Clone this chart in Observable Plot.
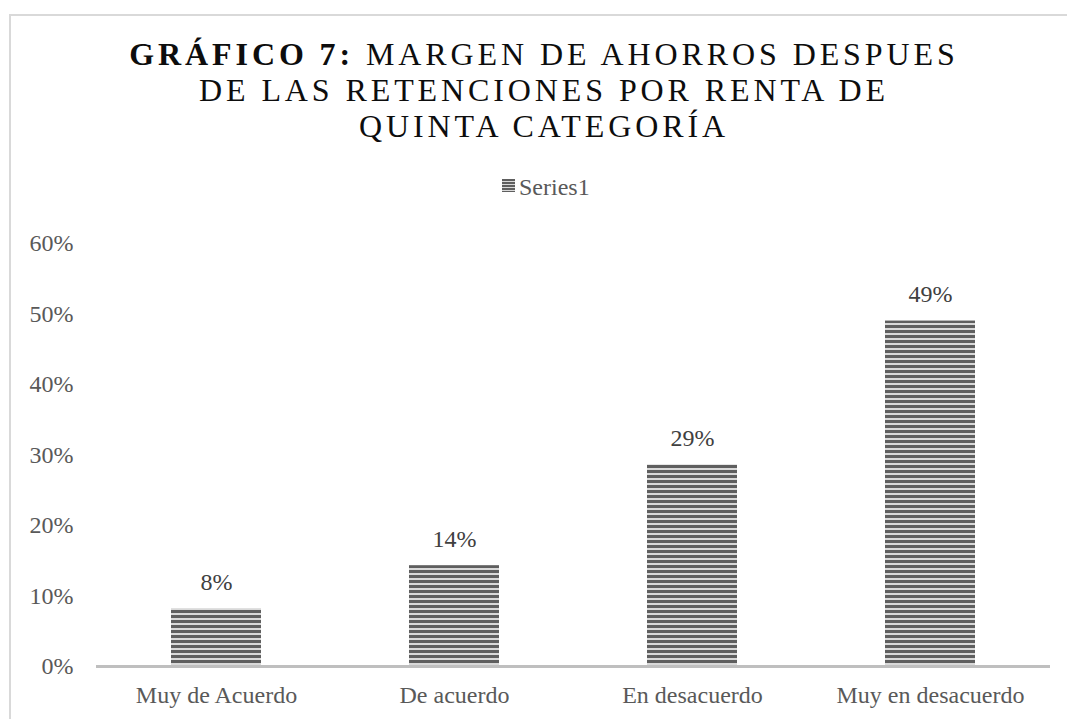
<!DOCTYPE html>
<html>
<head>
<meta charset="utf-8">
<script src="https://cdn.jsdelivr.net/npm/d3@7"></script>
<script src="https://cdn.jsdelivr.net/npm/@observablehq/plot@0.6"></script>
<style>
  html, body { margin: 0; padding: 0; background: #ffffff; overflow: hidden; }
  #wrap { position: relative; width: 1067px; height: 719px; overflow: hidden; background: #fff; }
  #frame { position: absolute; left: 9px; top: 14px; width: 1200px; height: 900px; border: 2px solid #d9d9d9; box-sizing: border-box; }
  #title { position: absolute; left: 0; width: 1088px; top: 36px; text-align: center; font-family: "Liberation Serif", serif; font-size: 32px; line-height: 36px; letter-spacing: 3.9px; color: #0d0d0d; white-space: nowrap; }
  #title b { font-weight: bold; }
  #legsq { position: absolute; left: 502px; top: 179px; }
  #legtxt { position: absolute; left: 519px; top: 175px; font-family: "Liberation Serif", serif; font-size: 24px; line-height: 24px; color: #595959; white-space: nowrap; }
  #chart { position: absolute; left: 0; top: 0; }
</style>
</head>
<body>
<div id="wrap">
  <div id="frame"></div>
  <div id="chart"></div>
  <div id="title"><b>GRÁFICO 7:</b> MARGEN DE AHORROS DESPUES<br>DE LAS RETENCIONES POR RENTA DE<br>QUINTA CATEGORÍA</div>
  <svg id="legsq" width="13" height="13"><defs><pattern id="stripesL" width="13" height="3" patternUnits="userSpaceOnUse"><rect width="13" height="3" fill="#d9d9d9"/><rect width="13" height="2" fill="#5f5f5f"/></pattern></defs><rect width="13" height="13" fill="url(#stripesL)"/></svg>
  <div id="legtxt"></div>
</div>
<script>
const categories = ["Muy de Acuerdo", "De acuerdo", "En desacuerdo", "Muy en desacuerdo"];
const values = [0.082, 0.143, 0.286, 0.49];
const yTicks = [0, 0.1, 0.2, 0.3, 0.4, 0.5, 0.6];
const seriesName = "Series1";

document.getElementById("legtxt").textContent = seriesName;

const data = categories.map((c, i) => ({category: c, value: values[i], series: seriesName}));
const pct = d3.format(".0%");

const chart = Plot.plot({
  width: 1067,
  height: 719,
  marginLeft: 96,
  marginRight: 17,
  marginTop: 243,
  marginBottom: 53,
  style: {fontFamily: "Liberation Serif, serif", fontSize: "24px", color: "#595959", background: "transparent", overflow: "visible"},
  x: {domain: categories, paddingInner: 0.62, paddingOuter: 0.31, label: null},
  y: {domain: [0, 0.6], ticks: yTicks, label: null},
  marks: [
    Plot.axisY({ticks: yTicks, tickFormat: pct, tickSize: 0, tickPadding: 23, label: null, fill: "#595959", fontSize: 24}),
    Plot.axisX({tickSize: 0, tickPadding: 19, label: null, fill: "#595959", fontSize: 24}),
    Plot.barY(data, {x: "category", y: "value", fill: "url(#stripes)"}),
    Plot.ruleY([0], {stroke: "#bfbfbf", strokeWidth: 3}),
    Plot.text(data, {x: "category", y: "value", text: d => pct(d.value), lineAnchor: "bottom", dy: -19, fill: "#404040", fontSize: 24})
  ]
});

const ns = "http://www.w3.org/2000/svg";
const defs = document.createElementNS(ns, "defs");
defs.innerHTML = '<pattern id="stripes" width="10" height="5" patternUnits="userSpaceOnUse" y="0"><rect width="10" height="5" fill="#d9d9d9"/><rect width="10" height="3" fill="#5f5f5f"/></pattern>';
chart.insertBefore(defs, chart.firstChild);
document.getElementById("chart").appendChild(chart);
</script>
</body>
</html>
